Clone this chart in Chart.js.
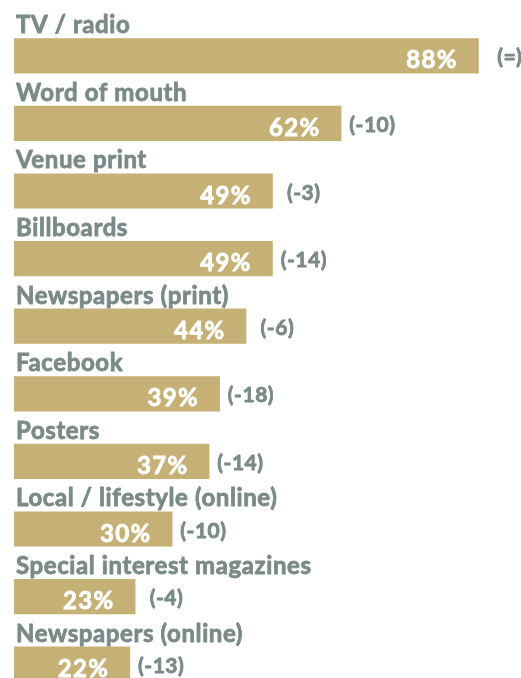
<!DOCTYPE html>
<html>
<head>
<meta charset="utf-8">
<script src="https://cdn.jsdelivr.net/npm/chart.js@4"></script>
<style>
  html, body { margin: 0; padding: 0; background: #fff; overflow: hidden; }
  .chart-wrap { width: 521px; height: 698px; position: relative; }
</style>
</head>
<body>
<div class="chart-wrap">
  <canvas id="mediaChart"></canvas>
</div>
<script>
const categories = [
  'TV / radio',
  'Word of mouth',
  'Venue print',
  'Billboards',
  'Newspapers (print)',
  'Facebook',
  'Posters',
  'Local / lifestyle (online)',
  'Special interest magazines',
  'Newspapers (online)'
];
const shares = [88, 62, 49, 49, 44, 39, 37, 30, 23, 22];
const changes = ['(=)', '(-10)', '(-3)', '(-14)', '(-6)', '(-18)', '(-14)', '(-10)', '(-4)', '(-13)'];

const GOLD = '#c5b075';
const GREY = '#7a8a88';
const FONT = 'Lato, "Open Sans", sans-serif';

// fill + thin stroke so the text looks as heavy as the original
function heavyText(ctx, text, x, y, color) {
  ctx.fillStyle = color;
  ctx.strokeStyle = color;
  ctx.lineWidth = 0.8;
  ctx.lineJoin = 'round';
  ctx.fillText(text, x, y);
  ctx.strokeText(text, x, y);
}

// labels above bars, value inside, change after the bar
const barText = {
  id: 'barText',
  afterDatasetsDraw(chart) {
    const ctx = chart.ctx;
    const meta = chart.getDatasetMeta(0);
    ctx.save();
    ctx.textBaseline = 'alphabetic';
    meta.data.forEach((bar, i) => {
      const { x, y, base, height } = bar.getProps(['x', 'y', 'base', 'height'], true);
      const top = y - height / 2;
      const bottom = y + height / 2;

      ctx.font = 'bold 24px ' + FONT;
      ctx.letterSpacing = '0.6px';
      ctx.textAlign = 'left';
      heavyText(ctx, categories[i], base + 2, top - 5, GREY);

      ctx.font = 'bold 24px ' + FONT;
      ctx.letterSpacing = '1.3px';
      ctx.textAlign = 'right';
      heavyText(ctx, shares[i] + '%', x - 21, bottom - 5, '#fff');

      ctx.font = 'bold 21px ' + FONT;
      ctx.letterSpacing = '0.5px';
      ctx.textAlign = 'center';
      heavyText(ctx, changes[i], x + 31, bottom - 9, GREY);
    });
    ctx.restore();
  }
};

const ctx = document.getElementById('mediaChart').getContext('2d');
new Chart(ctx, {
  type: 'bar',
  data: {
    labels: categories,
    datasets: [{
      data: shares,
      backgroundColor: GOLD,
      borderWidth: 0,
      barPercentage: 1,
      categoryPercentage: 0.52
    }]
  },
  options: {
    indexAxis: 'y',
    responsive: true,
    maintainAspectRatio: false,
    animation: false,
    layout: { padding: { left: 14, right: 0, top: 22, bottom: 0 } },
    scales: {
      x: { display: false, min: 0, max: 96 },
      y: { display: false }
    },
    plugins: {
      legend: { display: false },
      tooltip: { enabled: false }
    }
  },
  plugins: [barText]
});
</script>
</body>
</html>
